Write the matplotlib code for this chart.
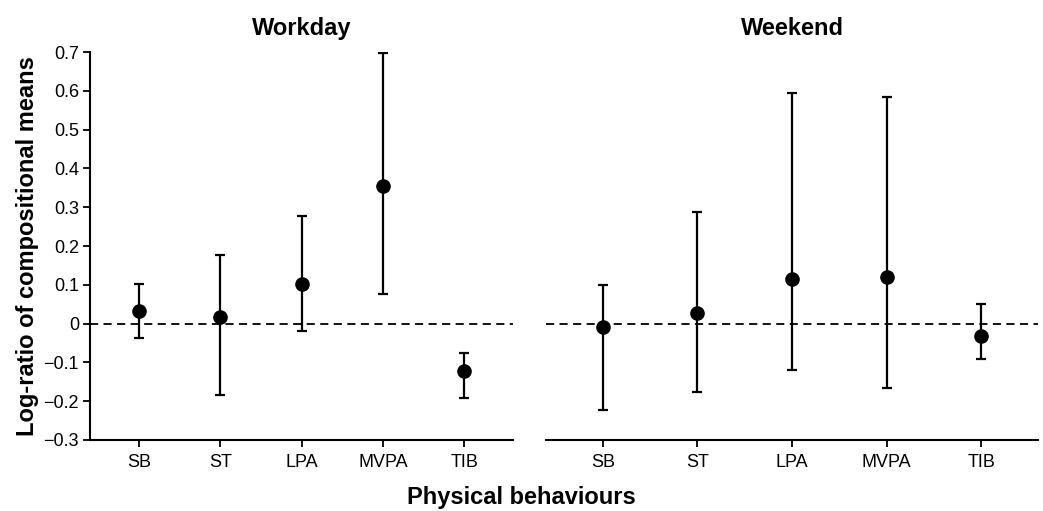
"""Log-ratio of compositional means, workday vs weekend"""
import matplotlib
matplotlib.use("Agg")
import matplotlib.pyplot as plt
import numpy as np

plt.rcParams["font.family"] = ["Liberation Sans", "DejaVu Sans"]

behaviours = ["SB", "ST", "LPA", "MVPA", "TIB"]

workday_mean = [0.033, 0.018, 0.101, 0.356, -0.122]
workday_low = [-0.038, -0.185, -0.019, 0.076, -0.193]
workday_high = [0.103, 0.177, 0.277, 0.699, -0.076]

weekend_mean = [-0.008, 0.027, 0.114, 0.121, -0.031]
weekend_low = [-0.224, -0.177, -0.120, -0.165, -0.092]
weekend_high = [0.100, 0.288, 0.595, 0.585, 0.050]

yticks = [-0.3, -0.2, -0.1, 0, 0.1, 0.2, 0.3, 0.4, 0.5, 0.6, 0.7]


def panel(ax, title, mean, low, high, show_y):
    x = np.arange(1, len(behaviours) + 1)
    mean = np.array(mean)
    err = [mean - np.array(low), np.array(high) - mean]
    ax.axhline(0, color="black", lw=1.3, dashes=(4.5, 3))
    ax.errorbar(x, mean, yerr=err, fmt="o", color="black", ms=9.5,
                elinewidth=1.6, capsize=3.5, capthick=1.6, zorder=3)
    ax.set_xlim(0.4, 5.6)
    ax.set_ylim(-0.3, 0.7)
    ax.set_xticks(x)
    ax.set_xticklabels(behaviours, fontsize=13)
    ax.set_title(title, fontsize=17, fontweight="bold", pad=12)
    for s in ["top", "right"]:
        ax.spines[s].set_visible(False)
    ax.spines["bottom"].set_linewidth(1.5)
    ax.tick_params(axis="x", length=5, width=1.3, pad=5)
    if show_y:
        ax.spines["left"].set_linewidth(1.5)
        ax.set_yticks(yticks)
        ax.set_yticklabels([f"{v:g}".replace("-", "\u2212") for v in yticks],
                           fontsize=13)
        ax.tick_params(axis="y", length=5, width=1.3, pad=3)
    else:
        ax.spines["left"].set_visible(False)
        ax.set_yticks([])


fig = plt.figure(figsize=(10.43, 5.11), dpi=100)
ax1 = fig.add_axes([0.0863, 0.139, 0.4056, 0.759])
ax2 = fig.add_axes([0.5235, 0.139, 0.4717, 0.759])

panel(ax1, "Workday", workday_mean, workday_low, workday_high, True)
panel(ax2, "Weekend", weekend_mean, weekend_low, weekend_high, False)

ax1.set_ylabel("Log-ratio of compositional means", fontsize=17,
               fontweight="bold", labelpad=3)
fig.text(0.5, 0.027, "Physical behaviours", ha="center", va="center",
         fontsize=17, fontweight="bold")

plt.savefig("out.png", dpi=100)
